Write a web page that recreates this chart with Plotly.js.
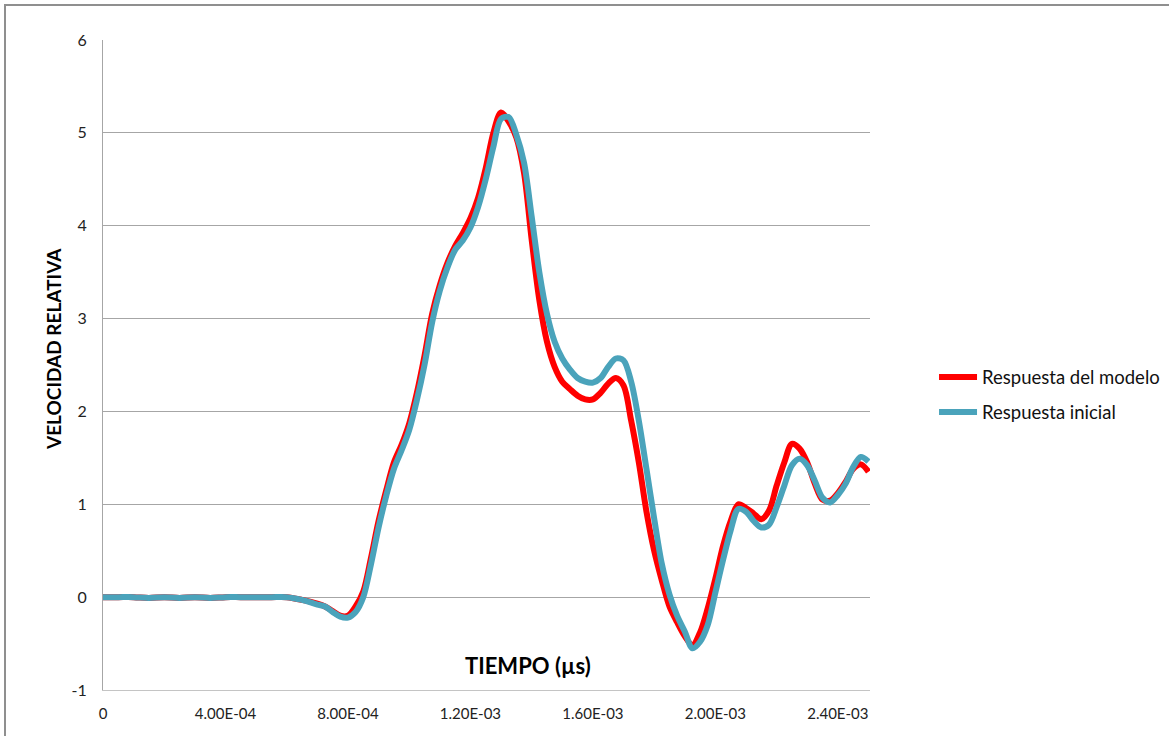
<!DOCTYPE html>
<html>
<head>
<meta charset="utf-8">
<script src="https://cdn.plot.ly/plotly-3.0.1.min.js"></script>
<style>
  html, body { margin: 0; padding: 0; background: #ffffff; }
  #chart { position: absolute; left: 0; top: 0; width: 1169px; height: 736px; }
  #frame { position: absolute; left: 4px; top: 4px; width: 1200px; height: 800px;
           border: 2px solid #8f8f8f; pointer-events: none; }
</style>
</head>
<body>
<div id="chart"></div>
<div id="frame"></div>
<script>
// Time (s)
const tiempo = [
  0, 0.00005, 0.0001, 0.00015, 0.0002, 0.00025, 0.0003, 0.00035, 0.0004, 0.00045,
  0.0005, 0.00055, 0.0006, 0.00065, 0.0007, 0.000725, 0.00075, 0.000775, 0.0008, 0.000825,
  0.00085, 0.000875, 0.0009, 0.000925, 0.00095, 0.000975, 0.001, 0.001025, 0.00105, 0.001075,
  0.0011, 0.001125, 0.00115, 0.001175, 0.0012, 0.001225, 0.00125, 0.001275, 0.0013, 0.001325,
  0.00135, 0.001375, 0.0014, 0.001425, 0.00145, 0.001475, 0.0015, 0.001525, 0.00155, 0.001575,
  0.0016, 0.001625, 0.00165, 0.001675, 0.0017, 0.001725, 0.00175, 0.001775, 0.0018, 0.001825,
  0.00185, 0.001875, 0.0019, 0.001925, 0.00195, 0.001975, 0.002, 0.002025, 0.00205, 0.002075,
  0.0021, 0.002125, 0.00215, 0.002175, 0.0022, 0.002225, 0.00225, 0.002275, 0.0023, 0.002325,
  0.00235, 0.002375, 0.0024, 0.002425, 0.00245, 0.002475, 0.0025
];

// Respuesta del modelo (red)
const respuestaModelo = [
  0, 0, 0, -0.01, 0, -0.01, 0, -0.01, 0, 0,
  0, 0, 0, -0.03, -0.07, -0.1, -0.15, -0.2, -0.2, -0.1,
  0.06, 0.42, 0.82, 1.15, 1.45, 1.64, 1.87, 2.2, 2.6, 3.05,
  3.36, 3.6, 3.78, 3.92, 4.08, 4.3, 4.62, 5.0, 5.22, 5.12,
  4.95, 4.57, 3.85, 3.2, 2.75, 2.48, 2.32, 2.24, 2.17, 2.13,
  2.13, 2.2, 2.3, 2.36, 2.28, 1.9, 1.45, 0.92, 0.5, 0.18,
  -0.1, -0.27, -0.42, -0.52, -0.38, -0.12, 0.2, 0.55, 0.82, 1.0,
  0.96, 0.9, 0.84, 0.93, 1.2, 1.45, 1.65, 1.6, 1.45, 1.22,
  1.05, 1.04, 1.12, 1.24, 1.38, 1.43, 1.35
];

// Respuesta inicial (blue)
const respuestaInicial = [
  0, 0, 0, -0.01, 0, -0.01, 0, -0.01, 0, 0,
  0, 0, 0, -0.03, -0.08, -0.1, -0.16, -0.21, -0.22, -0.16,
  0.0, 0.35, 0.75, 1.09, 1.38, 1.58, 1.8, 2.12, 2.5, 2.96,
  3.3, 3.55, 3.74, 3.84, 3.98, 4.2, 4.5, 4.85, 5.15, 5.17,
  4.98, 4.68, 4.1, 3.5, 3.05, 2.75, 2.57, 2.45, 2.36, 2.32,
  2.31, 2.36, 2.48, 2.57, 2.55, 2.32, 1.9, 1.38, 0.85, 0.36,
  0.03, -0.2, -0.37, -0.55, -0.48, -0.3, 0.05, 0.4, 0.72, 0.95,
  0.92, 0.82, 0.75, 0.78, 0.97, 1.2, 1.42, 1.49, 1.42, 1.25,
  1.07, 1.02, 1.1, 1.22, 1.4, 1.51, 1.46
];

const xTickVals = [0, 0.0004, 0.0008, 0.0012, 0.0016, 0.002, 0.0024];
const xTickText = ['0', '4.00E-04', '8.00E-04', '1.20E-03', '1.60E-03', '2.00E-03', '2.40E-03'];
const yTickVals = [-1, 0, 1, 2, 3, 4, 5, 6];
const yTickText = ['-1', '0', '1', '2', '3', '4', '5', '6'];

const seriesNames = ['Respuesta del modelo', 'Respuesta inicial'];
const xTitle = 'TIEMPO (µs)';
const yTitle = 'VELOCIDAD RELATIVA';

const traces = [
  {
    x: tiempo, y: respuestaModelo, name: seriesNames[0], type: 'scatter', mode: 'lines',
    legendgroup: 'g1',
    line: { color: '#ff0000', width: 6, shape: 'spline', smoothing: 0.9 }
  },
  {
    x: tiempo, y: respuestaInicial, name: seriesNames[1], type: 'scatter', mode: 'lines',
    legendgroup: 'g2',
    line: { color: '#4aa3bb', width: 6, shape: 'spline', smoothing: 0.9 }
  }
];

const layout = {
  width: 1169, height: 736,
  margin: { l: 103, r: 299, t: 40, b: 46, pad: 0 },
  paper_bgcolor: 'rgba(0,0,0,0)',
  plot_bgcolor: '#ffffff',
  font: { family: 'Lato, sans-serif', color: '#222222' },
  showlegend: true,
  legend: {
    xref: 'container', yref: 'container',
    x: 0.799, xanchor: 'left', y: 1 - 395 / 736, yanchor: 'middle',
    font: { family: 'Lato, sans-serif', size: 18.5, color: '#111111' },
    bgcolor: 'rgba(0,0,0,0)', borderwidth: 0, tracegroupgap: 8,
    itemwidth: 38
  },
  xaxis: {
    range: [0, 0.002505],
    tickvals: xTickVals, ticktext: xTickText,
    showgrid: false, zeroline: false,
    showline: true, linecolor: '#c4c4c4', linewidth: 1,
    ticks: 'outside', ticklen: 10, tickcolor: 'rgba(0,0,0,0)',
    tickfont: { family: 'Lato, sans-serif', size: 15, color: '#222222' },
    fixedrange: true
  },
  yaxis: {
    range: [-1, 6],
    tickvals: yTickVals, ticktext: yTickText,
    showgrid: true, gridcolor: '#a6a6a6', gridwidth: 1,
    zeroline: true, zerolinecolor: '#a6a6a6', zerolinewidth: 1,
    showline: true, linecolor: '#a6a6a6', linewidth: 1,
    ticks: 'outside', ticklen: 12, tickcolor: 'rgba(0,0,0,0)',
    tickfont: { family: 'Lato, sans-serif', size: 16, color: '#222222' },
    fixedrange: true
  },
  annotations: [
    {
      text: '<b>' + xTitle + '</b>', xref: 'paper', yref: 'paper',
      x: (527.5 - 103) / 767, y: (690 - 665) / 650, xanchor: 'center', yanchor: 'middle',
      showarrow: false, font: { family: 'Lato, sans-serif', size: 22, color: '#000000' }
    },
    {
      text: '<b>' + yTitle + '</b>', xref: 'paper', yref: 'paper', textangle: -90,
      x: (53 - 103) / 767, y: (690 - 349) / 650, xanchor: 'center', yanchor: 'middle',
      showarrow: false, font: { family: 'Lato, sans-serif', size: 19, color: '#000000' }
    }
  ]
};

Plotly.newPlot('chart', traces, layout, { displayModeBar: false, staticPlot: true });
</script>
</body>
</html>
